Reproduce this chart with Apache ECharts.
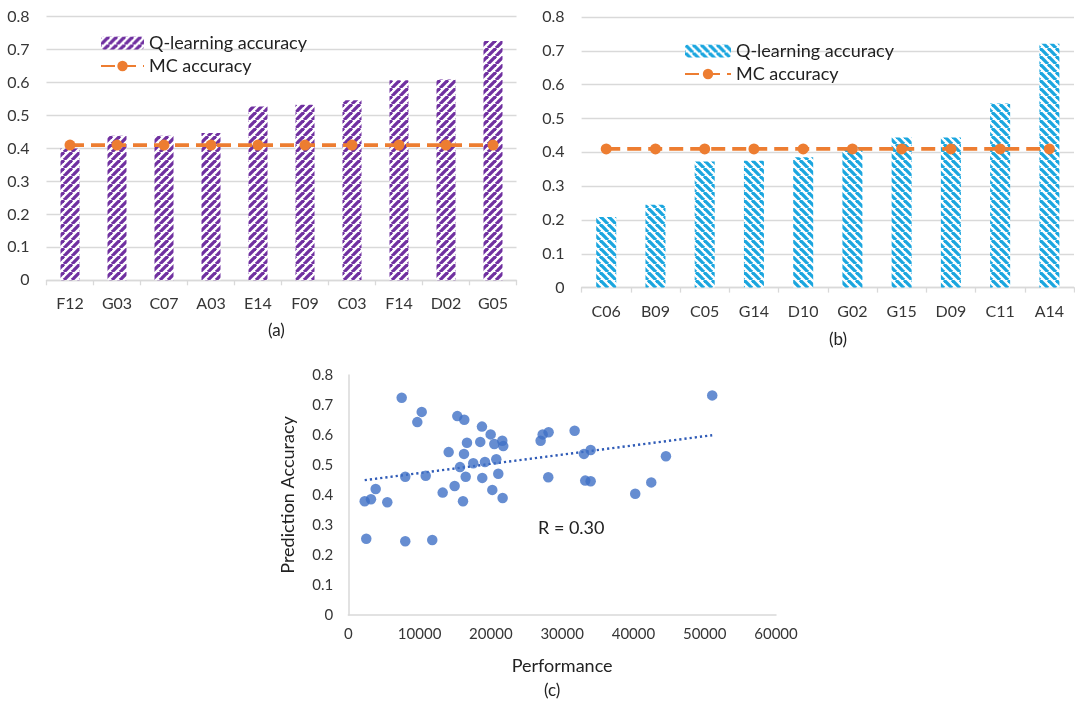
<!DOCTYPE html>
<html>
<head>
<meta charset="utf-8">
<script src="https://cdn.jsdelivr.net/npm/echarts@6/dist/echarts.min.js"></script>
<style>
html,body{margin:0;padding:0;background:#fff;}
#main{width:1075px;height:703px;}
</style>
</head>
<body>
<div id="main"></div>
<script>
// ---------- data ----------
const catsA = ['F12','G03','C07','A03','E14','F09','C03','F14','D02','G05'];
const qlA   = [0.400,0.438,0.438,0.447,0.527,0.532,0.546,0.607,0.609,0.726];
const mcA   = [0.41,0.41,0.41,0.41,0.41,0.41,0.41,0.41,0.41,0.41];

const catsB = ['C06','B09','C05','G14','D10','G02','G15','D09','C11','A14'];
const qlB   = [0.209,0.245,0.373,0.375,0.385,0.416,0.444,0.444,0.544,0.721];
const mcB   = [0.41,0.41,0.41,0.41,0.41,0.41,0.41,0.41,0.41,0.41];

const perfX = [7490,10300,9680,15290,16270,18750,19970,16650,18510,20480,21600,21740,
  14080,16230,15670,17530,19170,20760,7990,10860,16470,18790,21040,14920,13240,20200,
  21650,16090,3840,2300,3180,5470,2520,7990,11780,26980,27270,28100,31750,28050,33060,
  34000,33240,34000,40250,42500,44560,51050];
const accY  = [0.724,0.677,0.643,0.663,0.651,0.628,0.602,0.574,0.577,0.570,0.581,0.563,
  0.543,0.537,0.493,0.506,0.510,0.519,0.461,0.464,0.461,0.457,0.471,0.430,0.408,0.417,
  0.390,0.379,0.420,0.379,0.386,0.376,0.254,0.246,0.250,0.581,0.602,0.609,0.614,0.459,0.537,
  0.550,0.448,0.446,0.404,0.442,0.529,0.732];

const barTicks = [0,0.1,0.2,0.3,0.4,0.5,0.6,0.7,0.8];
const perfTicks = [0,10000,20000,30000,40000,50000,60000];
const rText = 'R = 0.30';

// ---------- helpers ----------
function stripes(color, dir){
  const s = 8;
  const c = document.createElement('canvas');
  c.width = s; c.height = s;
  const g = c.getContext('2d');
  g.fillStyle = '#ffffff'; g.fillRect(0,0,s,s);
  g.strokeStyle = color; g.lineWidth = 3.3;
  for (let k=-1;k<=1;k++){
    g.beginPath();
    if (dir === '/') { g.moveTo(k*s, s); g.lineTo(k*s+s, 0); }
    else { g.moveTo(k*s, 0); g.lineTo(k*s+s, s); }
    g.stroke();
  }
  return {image: c, repeat: 'repeat'};
}
// least squares trend line from the scatter data
function trend(xs, ys){
  const n = xs.length;
  let sx=0, sy=0, sxx=0, sxy=0;
  for (let i=0;i<n;i++){ sx+=xs[i]; sy+=ys[i]; sxx+=xs[i]*xs[i]; sxy+=xs[i]*ys[i]; }
  const b = (n*sxy - sx*sy)/(n*sxx - sx*sx);
  const a = (sy - b*sx)/n;
  const x0 = Math.min(...xs), x1 = Math.max(...xs);
  return [[x0, a+b*x0],[x1, a+b*x1]];
}

const FONT = 'Lato';
const LBL = '#363636';
const TXT = '#222222';
const GRIDC = '#d9d9d9';
const ORANGE = '#ED7D31';
const purplePat = stripes('#7030A0','/');
const bluePat = stripes('#1BA6DF','\\');

function fmtTick(v){ const t = barTicks.find(x => Math.abs(x-v)<1e-9); return String(t); }

function barY(idx){
  return {
    type:'value', gridIndex: idx, min:0, max:0.8, interval:0.1,
    axisLine:{show:false}, axisTick:{show:false},
    splitLine:{lineStyle:{color:GRIDC, width:1.3}},
    axisLabel:{fontFamily:FONT, fontSize:16, color:LBL, margin:17, formatter: fmtTick}
  };
}
function barX(idx, cats){
  return {
    type:'category', gridIndex: idx, data: cats,
    axisLine:{lineStyle:{color:GRIDC, width:1.3}},
    axisTick:{show:true, length:5, lineStyle:{color:GRIDC, width:1.3}},
    axisLabel:{fontFamily:FONT, fontSize:16, color:LBL, margin:16}
  };
}
function mcSeries(idx, data){
  return {
    name:'MC accuracy', type:'line', xAxisIndex: idx, yAxisIndex: idx, data,
    symbol:'circle', symbolSize:11, itemStyle:{color:ORANGE},
    lineStyle:{color:ORANGE, width:3.8, type:[14,7]}, z:5
  };
}
function legendAt(left, top, w, first){
  return {left, top, orient:'vertical', itemWidth:w, itemHeight:13, itemGap:5,
    textStyle:{fontFamily:FONT, fontSize:18, color:TXT},
    formatter: n => n.trim(),
    data:[first, 'MC accuracy'], selectedMode:false};
}

const chart = echarts.init(document.getElementById('main'), null, {renderer:'canvas'});
const tr = trend(perfX, accY);

chart.setOption({
  animation:false,
  backgroundColor:'#ffffff',
  grid:[
    {left:46.5, top:16.5, width:470, height:263.8},
    {left:581.6, top:17, width:492.4, height:270.6},
    {left:348.3, top:375, width:427.7, height:240}
  ],
  legend:[
    legendAt(95, 29, 43, 'Q-learning accuracy'),
    legendAt(679, 37, 46, 'Q-learning accuracy ')
  ],
  xAxis:[
    barX(0, catsA), barX(1, catsB),
    {type:'value', gridIndex:2, min:0, max:60000, interval:10000,
     axisLine:{show:true, lineStyle:{color:GRIDC, width:1.5}}, axisTick:{show:false},
     splitLine:{show:false},
     axisLabel:{fontFamily:FONT, fontSize:15, color:LBL, margin:12,
       formatter: v => String(perfTicks.find(x => x===v))},
     name:'Performance', nameLocation:'middle', nameGap:42,
     nameTextStyle:{fontFamily:FONT, fontSize:18, color:TXT}}
  ],
  yAxis:[
    barY(0), barY(1),
    {type:'value', gridIndex:2, min:0, max:0.8, interval:0.1,
     axisLine:{show:true, lineStyle:{color:GRIDC, width:1.5}}, axisTick:{show:false},
     splitLine:{show:false},
     axisLabel:{fontFamily:FONT, fontSize:15, color:LBL, margin:15, formatter: fmtTick},
     name:'Prediction Accuracy', nameLocation:'middle', nameGap:51, nameRotate:90,
     nameTextStyle:{fontFamily:FONT, fontSize:18, color:TXT}}
  ],
  series:[
    {name:'Q-learning accuracy', type:'bar', xAxisIndex:0, yAxisIndex:0, data:qlA,
     barWidth:19, itemStyle:{color:purplePat}},
    mcSeries(0, mcA),
    {name:'Q-learning accuracy ', type:'bar', xAxisIndex:1, yAxisIndex:1, data:qlB,
     barWidth:20, itemStyle:{color:bluePat}},
    mcSeries(1, mcB),
    {type:'scatter', xAxisIndex:2, yAxisIndex:2, data: perfX.map((x,i)=>[x, accY[i]]),
     symbolSize:10.5, itemStyle:{color:'#4070C6'}, z:4},
    {type:'line', xAxisIndex:2, yAxisIndex:2, data: tr, symbol:'none',
     lineStyle:{color:'#2F5BB7', width:2.4, type:[2.2,3]}, z:3}
  ],
  graphic:[
    {type:'text', left:268, top:322, style:{text:'(a)', font:'17px Lato', fill:TXT}},
    {type:'text', left:829, top:331, style:{text:'(b)', font:'17px Lato', fill:TXT}},
    {type:'text', left:544, top:682, style:{text:'(c)', font:'17px Lato', fill:TXT}},
    {type:'text', left:538, top:519, style:{text:rText, font:'18px Lato', fill:TXT}}
  ]
});
</script>
</body>
</html>
